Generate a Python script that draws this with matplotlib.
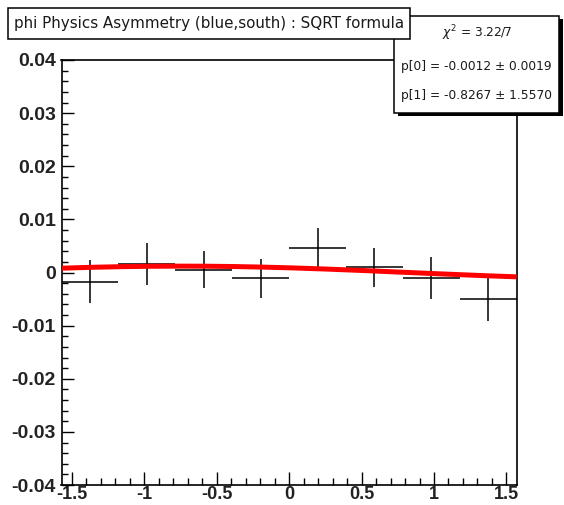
import numpy as np
import matplotlib
matplotlib.use("Agg")
import matplotlib.pyplot as plt
from matplotlib.patches import Rectangle
from matplotlib.ticker import MultipleLocator, FixedLocator, FixedFormatter

# ---- data -------------------------------------------------------------
phi_edges = np.linspace(-np.pi / 2, np.pi / 2, 9)
asym = [-0.0017, 0.0016, 0.0005, -0.0011, 0.0047, 0.0010, -0.0010, -0.0050]
asym_err = [0.0041, 0.0039, 0.0035, 0.0037, 0.0036, 0.0037, 0.0039, 0.0042]

# fit result: p0 * sin(phi + p1)
p0, p0_err = -0.0012, 0.0019
p1, p1_err = -0.8267, 1.5570
chi2, ndf = 3.22, 7

title = "phi Physics Asymmetry (blue,south) : SQRT formula"
xticks = [-1.5, -1.0, -0.5, 0.0, 0.5, 1.0, 1.5]
xtick_labels = ["-1.5", "-1", "-0.5", "0", "0.5", "1", "1.5"]
yticks = [-0.04, -0.03, -0.02, -0.01, 0.0, 0.01, 0.02, 0.03, 0.04]
ytick_labels = ["-0.04", "-0.03", "-0.02", "-0.01", "0", "0.01", "0.02", "0.03", "0.04"]

# ---- figure -----------------------------------------------------------
W_PX, H_PX = 564, 505
fig = plt.figure(figsize=(W_PX / 100, H_PX / 100), dpi=100)
fig.patch.set_facecolor("white")


def fx(px):
    return px / W_PX


def fy(py):
    return 1 - py / H_PX


left, right, top, bottom = 61.5, 516.7, 60.0, 485.0
ax = fig.add_axes([fx(left), fy(bottom), fx(right - left), (bottom - top) / H_PX])

centers = 0.5 * (phi_edges[:-1] + phi_edges[1:])
half_w = 0.5 * np.diff(phi_edges)
ax.errorbar(centers, asym, xerr=half_w, yerr=asym_err, fmt="none",
            ecolor="black", elinewidth=1.1, capsize=0, zorder=2)

phi_fine = np.linspace(phi_edges[0], phi_edges[-1], 300)
ax.plot(phi_fine, p0 * np.sin(phi_fine + p1), color="#ff0000", lw=3.6,
        solid_capstyle="butt", zorder=3)

ax.set_xlim(phi_edges[0], phi_edges[-1])
ax.set_ylim(-0.04, 0.04)

ax.xaxis.set_major_locator(FixedLocator(xticks))
ax.xaxis.set_major_formatter(FixedFormatter(xtick_labels))
ax.xaxis.set_minor_locator(MultipleLocator(0.1))
ax.yaxis.set_major_locator(FixedLocator(yticks))
ax.yaxis.set_major_formatter(FixedFormatter(ytick_labels))
ax.yaxis.set_minor_locator(MultipleLocator(0.002))

ax.tick_params(axis="x", which="major", direction="in", length=9.4, width=1.0,
               pad=0.5, top=False)
ax.tick_params(axis="x", which="minor", direction="in", length=4.7, width=1.0,
               top=False)
ax.tick_params(axis="y", which="major", direction="in", length=8.6, width=1.0,
               pad=4, right=False)
ax.tick_params(axis="y", which="minor", direction="in", length=4.3, width=1.0,
               right=False)
for lab in ax.get_yticklabels():
    lab.set_fontfamily("Liberation Sans")
    lab.set_fontweight("bold")
    lab.set_fontsize(14)
    lab.set_color("#222222")
for lab in ax.get_xticklabels():
    lab.set_fontfamily("Liberation Sans")
    lab.set_fontweight("bold")
    lab.set_fontsize(13)
    lab.set_color("#222222")
for sp in ax.spines.values():
    sp.set_linewidth(1.2)
    sp.set_color("black")

# ---- statistics box ---------------------------------------------------
sx0, sy0, sx1, sy1 = 394.0, 15.7, 559.3, 112.7
shadow = 3.5
fig.patches.append(Rectangle((fx(sx0 + shadow), fy(sy1 + shadow)),
                             fx(sx1 - sx0), (sy1 - sy0) / H_PX,
                             transform=fig.transFigure, facecolor="black",
                             edgecolor="none", zorder=5))
fig.patches.append(Rectangle((fx(sx0), fy(sy1)), fx(sx1 - sx0), (sy1 - sy0) / H_PX,
                             transform=fig.transFigure, facecolor="white",
                             edgecolor="black", lw=1.1, zorder=6))
scx = fx(0.5 * (sx0 + sx1))
stat_kw = dict(ha="center", va="center", fontsize=8.8, family="DejaVu Sans",
               color="#1a1a1a", zorder=7, transform=fig.transFigure)
fig.text(scx, fy(33.3), r"$\chi^{2}$ = %.2f/%d" % (chi2, ndf), **stat_kw)
fig.text(scx, fy(66.7), "p[0] = %.4f \u00b1 %.4f" % (p0, p0_err), **stat_kw)
fig.text(scx, fy(95.5), "p[1] = %.4f \u00b1 %.4f" % (p1, p1_err), **stat_kw)

# ---- title box --------------------------------------------------------
tx0, ty0, tx1, ty1 = 8.3, 8.3, 410.0, 38.5
fig.patches.append(Rectangle((fx(tx0), fy(ty1)), fx(tx1 - tx0), (ty1 - ty0) / H_PX,
                             transform=fig.transFigure, facecolor="white",
                             edgecolor="black", lw=1.1, zorder=8))
fig.text(fx(0.5 * (tx0 + tx1)), fy(0.5 * (ty0 + ty1)), title, ha="center",
         va="center", fontsize=10.9, family="DejaVu Sans", color="#1a1a1a",
         zorder=9, transform=fig.transFigure)

fig.savefig("out.png", dpi=100, facecolor="white")
